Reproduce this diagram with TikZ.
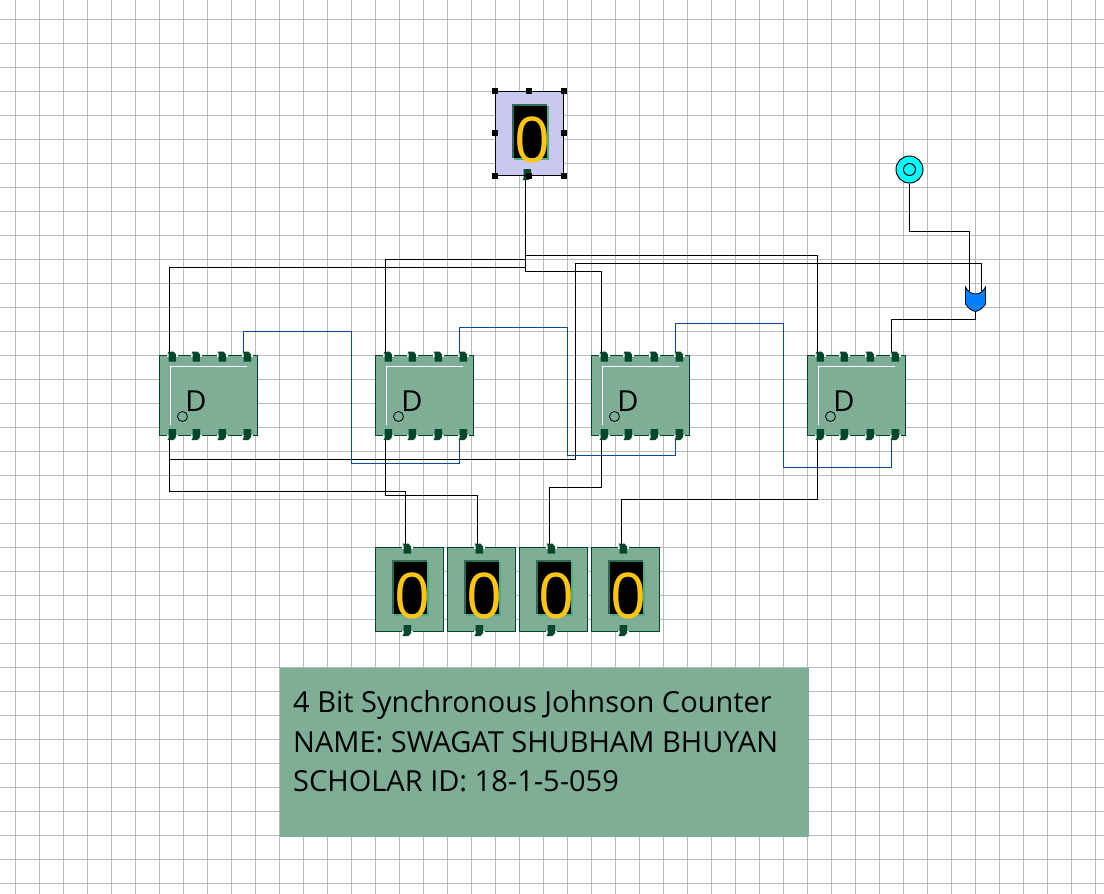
\documentclass[tikz,border=0pt]{standalone}
\usepackage{fontspec}
\setmainfont{Open Sans}
\usetikzlibrary{arrows.meta, positioning, calc}
\definecolor{gridgrey}{HTML}{BABABA}
\definecolor{ffgreen}{HTML}{7EAF96}
\definecolor{pingreen}{HTML}{00472B}
\definecolor{selblue}{HTML}{C8C8F0}
\definecolor{loopblue}{HTML}{0B4A9E}
\definecolor{gateblue}{HTML}{0080FF}
\definecolor{clockcyan}{HTML}{00FFFF}
\definecolor{digitgold}{HTML}{FFC60F}
\definecolor{rimdark}{HTML}{2E6B55}
\definecolor{rimlight}{HTML}{4FAE80}
\tikzset{
  wire/.style={black, line width=1pt},
  loopwire/.style={loopblue, line width=1pt},
  ffbox/.style={draw=pingreen, fill=ffgreen, line width=1pt, minimum width=98pt, minimum height=80pt, inner sep=0pt, outer sep=0pt, anchor=north west},
  dispbox/.style={draw=pingreen, line width=1pt, minimum width=68pt, minimum height=84pt, inner sep=0pt, outer sep=0pt, anchor=north west},
  toppin/.pic={
    \fill[white] (-2,0) rectangle (9,1.5);
    \fill[pingreen] (-1,-3.5) -- (5,-3.5) to[bend left=20] (7.5,-0.5) -- (7.5,6.5) -- (0,6.5) -- (0,-1.5) -- cycle;
  },
  botpin/.pic={
    \fill[white] (-2,-1) rectangle (9,0.5);
    \fill[pingreen] (0,-6.5) -- (7.5,-6.5) -- (7.5,1.5) to[bend left=20] (5,4.5) -- (-1,4.5) -- (0,2.5) -- cycle;
  }
}

\begin{document}
\begin{tikzpicture}[x=1pt, y=-1pt]
\useasboundingbox (0,0) rectangle (1104,894);

% Sheet grid
\foreach \gx in {0,...,45}
  \draw[gridgrey, line width=1pt] (15.5+24*\gx,0) -- (15.5+24*\gx,894);
\foreach \gy in {0,...,36}
  \draw[gridgrey, line width=1pt] (0,19.5+24*\gy) -- (1104,19.5+24*\gy);

% Pin ends of flip-flops and readouts
\foreach \name/\x in {ffa/159.5, ffb/375.5, ffc/591.5, ffd/807.5} {
  \coordinate (\name-t1) at (\x+10,352);
  \coordinate (\name-t4) at (\x+84,352);
  \coordinate (\name-b1) at (\x+10,440);
  \coordinate (\name-b4) at (\x+84,440);
}
\foreach \name/\x in {dispa/375.5, dispb/447.5, dispc/519.5, dispd/591.5}
  \coordinate (\name-in) at (\x+30,544);
\coordinate (dispt-out) at (525.5,180);

% Gate terminals
\coordinate (gate-a) at (969.5,291);
\coordinate (gate-b) at (981.5,291);
\coordinate (gate-o) at (975.5,311);

% Bus drops
\coordinate (busa) at (525.5,267.5);
\coordinate (busb) at (525.5,259.5);
\coordinate (busc) at (525.5,271.5);
\coordinate (busd) at (525.5,255.5);

% Clock source
\node[circle, draw=black, fill=clockcyan, line width=1pt, minimum size=27pt, inner sep=0pt] (clk) at (909.5,169.5) {};
\draw[black, line width=1pt] (clk) circle (6);

% Bus from top readout
\draw[wire] (dispt-out) -- (busc);
\draw[wire] (busa) -| (ffa-t1);
\draw[wire] (busb) -| (ffb-t1);
\draw[wire] (busc) -| (ffc-t1);
\draw[wire] (busd) -| (ffd-t1);

% Feedback and clock
\draw[wire] (ffa-b1) -- (169.5,459.5) -| (575.5,263.5) -| (gate-b);
\draw[wire] (clk.south) -- (909.5,231.5) -| (gate-a);
\draw[wire] (ffd-t4) -- (891.5,319.5) -| (gate-o);

% Stage to stage
\draw[loopwire] (ffa-t4) -- (243.5,331.5) -| (351.5,463.5) -| (ffb-b4);
\draw[loopwire] (ffb-t4) -- (459.5,327.5) -| (567.5,455.5) -| (ffc-b4);
\draw[loopwire] (ffc-t4) -- (675.5,323.5) -| (783.5,467.5) -| (ffd-b4);

% Outputs to readouts
\draw[wire] (ffa-b1) -- (169.5,491.5) -| (dispa-in);
\draw[wire] (ffb-b1) -- (385.5,495.5) -| (dispb-in);
\draw[wire] (ffc-b1) -- (601.5,487.5) -| (dispc-in);
\draw[wire] (ffd-b1) -- (817.5,499.5) -| (dispd-in);

% Flip-flops
\foreach \name/\x in {ffa/159.5, ffb/375.5, ffc/591.5, ffd/807.5} {
  \node[ffbox] (\name) at (\x,355.5) {};
  \draw[white, line width=1pt] (\x+11,424.5) -- (\x+11,366.5) -- (\x+87,366.5);
  \node[font=\fontsize{29}{29}\selectfont, inner sep=0pt] (\name-d) at (\x+36.5,401) {D};
  \draw[black, line width=0.8pt] (\x+23,416.5) circle (5);
  \foreach \px in {9,33,59,84} {
    \pic at (\x+\px,355) {toppin};
    \pic at (\x+\px,435.5) {botpin};
  }
}

% Readouts
\foreach \name/\x/\y/\col in {dispt/495.5/91.5/selblue, dispa/375.5/547.5/ffgreen, dispb/447.5/547.5/ffgreen, dispc/519.5/547.5/ffgreen, dispd/591.5/547.5/ffgreen} {
  \node[dispbox, fill=\col] (\name) at (\x,\y) {};
  \fill[rimdark] (\x+16,\y+12) rectangle (\x+51,\y+66);
  \fill[rimlight] (\x+18,\y+14) rectangle (\x+53,\y+68.5);
  \fill[black] (\x+18,\y+14) rectangle (\x+51,\y+66.5);
  \node[text=digitgold, font=\fontsize{63}{63}\selectfont, inner sep=0pt] (\name-val) at (\x+37,\y+48) {0};
  \pic at (\x+28,\y+84) {botpin};
}
\foreach \x in {375.5,447.5,519.5,591.5}
  \pic at (\x+28,547) {toppin};

% Selection frame and handles
\draw[black, line width=1pt] (dispt.north west) rectangle (dispt.south east);
\foreach \hx/\hy in {495/91, 529/91, 564/91, 495/133, 564/133, 495/176, 529/176, 564/176}
  \fill[black] (\hx-3,\hy-3) rectangle (\hx+3,\hy+3);

% OR gate
\fill[gateblue, draw=black, line width=0.8pt] (965.5,287) .. controls (968,292) and (972,294) .. (975.5,294) .. controls (979,294) and (983,292) .. (985.5,287) -- (985.5,304) .. controls (983,308) and (979,311) .. (975.5,311.5) .. controls (972,311) and (968,308) .. (965.5,304) -- cycle;

% Caption
\node[fill=ffgreen, minimum width=529pt, minimum height=169pt, inner sep=0pt, anchor=north west] (caption) at (279.5,667.5) {};
\node[anchor=west, align=left, inner sep=0pt, font=\fontsize{29}{39.5}\selectfont] (captiontext) at (293,741.5) {4 Bit Synchronous Johnson Counter\\NAME: SWAGAT SHUBHAM BHUYAN\\SCHOLAR ID: 18-1-5-059};

\end{tikzpicture}
\end{document}
